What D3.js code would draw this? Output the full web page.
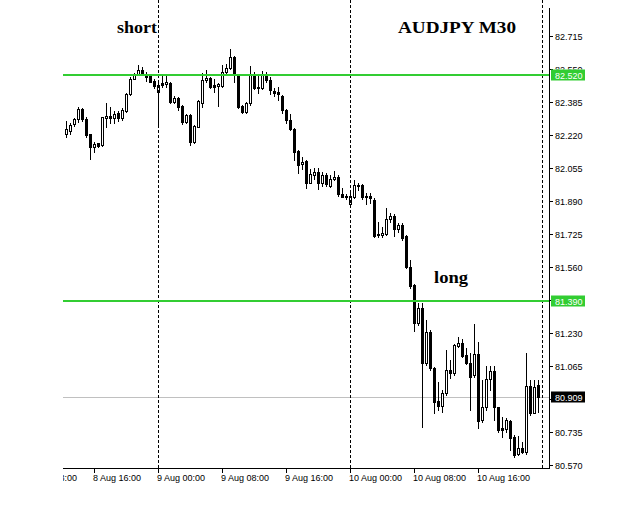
<!DOCTYPE html>
<html>
<head>
<meta charset="utf-8">
<script src="https://cdn.jsdelivr.net/npm/d3@7"></script>
<style>
  html, body { margin: 0; padding: 0; background: #fff; }
  svg { display: block; }
</style>
</head>
<body>
<div id="chart"></div>
<script>
// ---------- DATA (AUDJPY M30, bars every 30 minutes) ----------
const startTime = "2017-08-08T12:30:00";   // first bar
const barMinutes = 30;

const open = [82.225,82.242,82.275,82.299,82.350,82.300,82.224,82.162,82.179,82.169,
82.307,82.315,82.307,82.332,82.307,82.342,82.424,82.502,82.522,82.544,
82.527,82.517,82.490,82.437,82.479,82.474,82.482,82.385,82.404,82.365,
82.287,82.320,82.187,82.262,82.382,82.495,82.507,82.470,82.465,82.465,
82.534,82.554,82.612,82.520,82.365,82.337,82.379,82.520,82.457,82.454,
82.520,82.495,82.442,82.435,82.415,82.345,82.295,82.249,82.140,82.074,
82.090,81.982,82.022,82.035,81.982,82.020,81.965,81.999,82.012,81.925,
81.915,81.875,81.909,81.969,81.970,81.915,81.915,81.895,81.725,81.719,
81.725,81.799,81.815,81.749,81.770,81.715,81.559,81.470,81.279,81.357,
81.079,81.237,81.054,80.892,80.867,80.929,81.045,81.029,81.167,81.179,
81.120,81.082,81.020,81.125,80.795,80.859,81.000,81.042,80.859,80.754,
80.749,80.792,80.709,80.625,80.654,80.637,80.965,80.832,80.969];

const high = [82.292,82.279,82.304,82.362,82.357,82.309,82.225,82.187,82.182,82.312,
82.379,82.362,82.340,82.342,82.354,82.429,82.509,82.532,82.572,82.559,
82.537,82.522,82.499,82.490,82.515,82.520,82.485,82.415,82.409,82.369,
82.325,82.325,82.270,82.395,82.532,82.545,82.512,82.499,82.482,82.570,
82.575,82.649,82.615,82.524,82.370,82.387,82.565,82.537,82.520,82.542,
82.537,82.512,82.454,82.462,82.420,82.349,82.325,82.254,82.145,82.112,
82.095,82.049,82.054,82.054,82.037,82.032,82.020,82.042,82.020,81.954,
81.925,81.937,81.995,81.982,81.975,81.932,81.929,81.904,81.787,81.762,
81.854,81.829,81.825,81.779,81.779,81.720,81.595,81.475,81.382,81.382,
81.295,81.245,81.062,80.987,80.945,81.147,81.095,81.175,81.212,81.199,
81.154,81.129,81.275,81.187,80.995,81.065,81.065,81.065,80.859,80.812,
80.804,80.795,80.720,80.715,80.687,81.132,80.995,80.995,80.995];

const low = [82.209,82.225,82.265,82.287,82.292,82.212,82.099,82.137,82.159,82.165,
82.262,82.279,82.279,82.292,82.295,82.337,82.420,82.499,82.519,82.519,
82.492,82.484,82.454,82.275,82.462,82.459,82.379,82.379,82.345,82.275,
82.279,82.170,82.182,82.259,82.359,82.487,82.454,82.437,82.365,82.462,
82.529,82.549,82.487,82.354,82.329,82.332,82.370,82.449,82.429,82.449,
82.487,82.425,82.415,82.395,82.329,82.282,82.245,82.095,82.029,82.049,
81.954,81.979,81.999,81.949,81.965,81.965,81.959,81.995,81.915,81.909,
81.899,81.870,81.904,81.945,81.899,81.875,81.882,81.712,81.712,81.712,
81.720,81.787,81.715,81.737,81.695,81.554,81.454,81.242,81.270,80.762,
81.070,81.045,80.829,80.845,80.837,80.920,81.004,81.020,81.162,81.112,
81.075,80.845,81.012,80.755,80.787,80.845,80.945,80.795,80.737,80.712,
80.737,80.645,80.612,80.620,80.629,80.625,80.820,80.829,80.837];

const close = [82.249,82.270,82.299,82.349,82.299,82.222,82.162,82.175,82.165,82.309,
82.315,82.307,82.325,82.307,82.345,82.425,82.500,82.519,82.545,82.524,
82.512,82.487,82.465,82.470,82.470,82.487,82.387,82.404,82.362,82.287,
82.320,82.187,82.265,82.390,82.495,82.507,82.462,82.462,82.475,82.537,
82.554,82.609,82.529,82.362,82.337,82.379,82.520,82.457,82.462,82.520,
82.495,82.445,82.429,82.425,82.345,82.295,82.249,82.137,82.070,82.087,
81.982,82.024,82.035,81.979,82.020,81.975,81.999,82.012,81.925,81.912,
81.909,81.915,81.970,81.965,81.909,81.909,81.904,81.715,81.719,81.729,
81.799,81.815,81.749,81.770,81.704,81.559,81.465,81.279,81.357,81.079,
81.237,81.054,80.887,80.867,80.929,81.045,81.029,81.170,81.179,81.117,
81.079,81.012,81.125,80.792,80.859,81.000,81.042,80.859,80.745,80.745,
80.795,80.704,80.620,80.654,80.637,80.965,80.832,80.962,80.909];

const yTicks = [80.570,80.735,80.900,81.065,81.230,81.395,81.560,81.725,81.890,82.055,82.220,82.385,82.550,82.715];
const xTickTimes = ["2017-08-08T08:00:00","2017-08-08T16:00:00","2017-08-09T00:00:00","2017-08-09T08:00:00",
                    "2017-08-09T16:00:00","2017-08-10T00:00:00","2017-08-10T08:00:00","2017-08-10T16:00:00"];
const xTickLabels = ["8 Aug 08:00","8 Aug 16:00","9 Aug 00:00","9 Aug 08:00",
                     "9 Aug 16:00","10 Aug 00:00","10 Aug 08:00","10 Aug 16:00"];
const separatorTimes = ["2017-08-09T00:00:00","2017-08-10T00:00:00","2017-08-11T00:00:00"];
const shortLevel = 82.520;
const longLevel = 81.390;
const bidPrice = 80.909;
const title = "AUDJPY M30";
const annotations = [
  {text: "short", time: "2017-08-08T18:50:00", price: 82.730, len: 40},
  {text: "long",  time: "2017-08-10T10:33:00", price: 81.482, len: 34}
];

// ---------- CHART ----------
const W = 638, H = 525;
const plotLeft = 63, plotRight = 549, plotBottom = 468;
const parse = d3.isoParse;
const t0 = parse(startTime);
const times = open.map((_, i) => new Date(t0.getTime() + i * barMinutes * 60000));
const tEnd = new Date(t0.getTime() + open.length * barMinutes * 60000);

const x = d3.scaleTime().domain([t0, tEnd]).range([66, 66 + open.length * 4]);
const y = d3.scaleLinear().domain([80.570, 82.715]).range([465, 36]);

const svg = d3.select("#chart").append("svg")
  .attr("width", W).attr("height", H)
  .style("font-family", "'Liberation Sans', Arial, sans-serif");

svg.append("rect").attr("width", W).attr("height", H).attr("fill", "#fff");

const defs = svg.append("defs");
defs.append("clipPath").attr("id", "plotclip")
  .append("rect").attr("x", plotLeft).attr("y", 0).attr("width", plotRight - plotLeft).attr("height", plotBottom);
defs.append("clipPath").attr("id", "xlabclip")
  .append("rect").attr("x", plotLeft).attr("y", plotBottom).attr("width", W - plotLeft).attr("height", H - plotBottom);

const plot = svg.append("g").attr("clip-path", "url(#plotclip)");

// bid line (under candles)
plot.append("line")
  .attr("x1", plotLeft).attr("x2", plotRight)
  .attr("y1", Math.round(y(bidPrice)) + 0.5).attr("y2", Math.round(y(bidPrice)) + 0.5)
  .attr("stroke", "#c0c0c0").attr("stroke-width", 1);

// candles
const cx = i => Math.round(x(times[i]));
const candles = plot.append("g");
open.forEach((o, i) => {
  const c = close[i], h = high[i], l = low[i];
  const xc = cx(i);
  candles.append("line")
    .attr("x1", xc + 0.5).attr("x2", xc + 0.5)
    .attr("y1", Math.round(y(h))).attr("y2", Math.round(y(l)) + 1)
    .attr("stroke", "#000").attr("stroke-width", 1);
  const top = Math.round(y(Math.max(o, c)));
  const bot = Math.round(y(Math.min(o, c)));
  const up = c > o;
  if (bot - top < 1) {
    candles.append("line")
      .attr("x1", xc - 1).attr("x2", xc + 2)
      .attr("y1", top + 0.5).attr("y2", top + 0.5)
      .attr("stroke", "#000");
  } else {
    candles.append("rect")
      .attr("x", xc - 0.5).attr("y", top + 0.5)
      .attr("width", 2).attr("height", bot - top)
      .attr("fill", up ? "#fff" : "#000")
      .attr("stroke", "#000").attr("stroke-width", 1);
  }
});

// vertical separators (dashed)
separatorTimes.forEach(s => {
  const xx = Math.round(x(parse(s))) + 0.5;
  plot.append("line")
    .attr("x1", xx).attr("x2", xx).attr("y1", 0).attr("y2", plotBottom)
    .attr("stroke", "#000").attr("stroke-width", 1).attr("stroke-dasharray", "3,2");
});

// horizontal levels
[shortLevel, longLevel].forEach(p => {
  plot.append("line")
    .attr("x1", plotLeft).attr("x2", plotRight)
    .attr("y1", y(p)).attr("y2", y(p))
    .attr("stroke", "#32cd32").attr("stroke-width", 2);
});

// axes lines
svg.append("line").attr("x1", plotRight + 0.5).attr("x2", plotRight + 0.5)
  .attr("y1", 8).attr("y2", plotBottom + 1).attr("stroke", "#000");
svg.append("line").attr("x1", plotLeft).attr("x2", plotRight + 1)
  .attr("y1", plotBottom + 0.5).attr("y2", plotBottom + 0.5).attr("stroke", "#000");

// price boxes geometry (labels under them are hidden / clipped as in the reference)
const boxes = [
  {p: shortLevel, bg: "#32cd32"},
  {p: longLevel, bg: "#32cd32"},
  {p: bidPrice, bg: "#000"}
].map(b => ({...b, top: Math.round(y(b.p)) - 5.5, bottom: Math.round(y(b.p)) + 5.5}));

// y ticks & labels
const yAxis = svg.append("g");
yTicks.forEach((t, k) => {
  const yy = Math.round(y(t));
  yAxis.append("line").attr("x1", plotRight).attr("x2", plotRight + 4)
    .attr("y1", yy + 0.5).attr("y2", yy + 0.5).attr("stroke", "#000");
  const tTop = yy - 3.5, tBot = yy + 3.5;
  const hit = boxes.find(b => tBot > b.top && tTop < b.bottom);
  if (hit && tTop >= hit.top - 0.5) return;          // fully hidden behind a price box
  const txt = yAxis.append("text").attr("x", 555).attr("y", yy + 3.5)
    .attr("font-size", "9px").attr("fill", "#000")
    .text(d3.format(".3f")(t));
  if (hit) {
    const id = "yclip" + k;
    defs.append("clipPath").attr("id", id)
      .append("rect").attr("x", 550).attr("y", 0).attr("width", 88).attr("height", hit.top);
    txt.attr("clip-path", `url(#${id})`);
  }
});

// price boxes
boxes.forEach(b => {
  svg.append("rect").attr("x", 551).attr("y", b.top)
    .attr("width", 34).attr("height", 11).attr("fill", b.bg);
  svg.append("text").attr("x", 555).attr("y", b.top + 9)
    .attr("font-size", "9px").attr("fill", "#fff")
    .text(d3.format(".3f")(b.p));
});

// x ticks & labels
const xAxis = svg.append("g").attr("clip-path", "url(#xlabclip)");
xTickTimes.forEach((s, k) => {
  const xx = Math.round(x(parse(s)));
  xAxis.append("line").attr("x1", xx + 0.5).attr("x2", xx + 0.5)
    .attr("y1", plotBottom).attr("y2", plotBottom + 5).attr("stroke", "#000");
  xAxis.append("text").attr("x", xx - 1).attr("y", 481)
    .attr("font-size", "9px").attr("fill", "#000")
    .text(xTickLabels[k]);
});

// title & annotations
svg.append("text").attr("x", 398).attr("y", 33)
  .attr("font-family", "'Liberation Serif', 'Times New Roman', serif")
  .attr("font-weight", "bold").attr("font-size", "17px")
  .attr("textLength", 118).attr("lengthAdjust", "spacingAndGlyphs")
  .text(title);
annotations.forEach(a => {
  svg.append("text").attr("x", Math.round(x(parse(a.time)))).attr("y", y(a.price))
    .attr("font-family", "'Liberation Serif', 'Times New Roman', serif")
    .attr("font-weight", "bold").attr("font-size", "17px")
    .attr("textLength", a.len).attr("lengthAdjust", "spacingAndGlyphs")
    .text(a.text);
});
</script>
</body>
</html>
